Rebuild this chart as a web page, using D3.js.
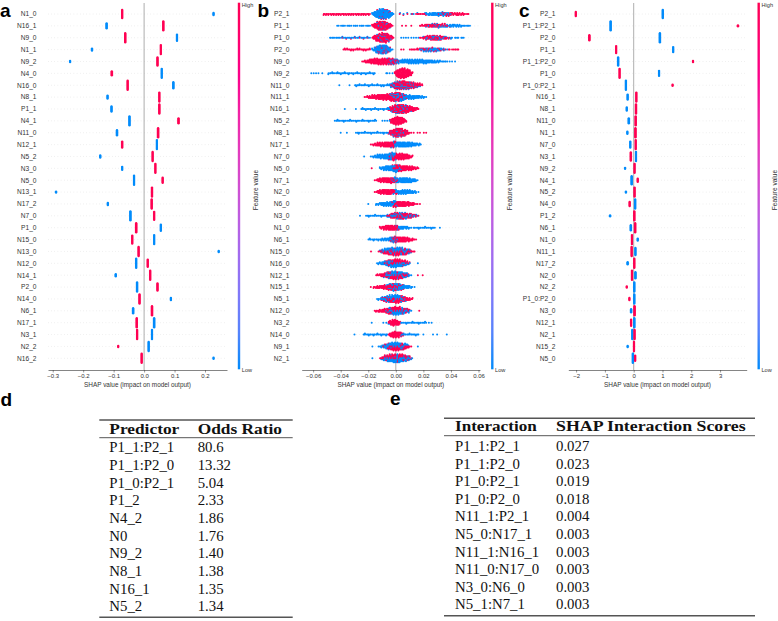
<!DOCTYPE html>
<html><head><meta charset="utf-8">
<script src="https://cdn.jsdelivr.net/npm/d3@7"></script>
<style>body{margin:0;background:#fff}svg{display:block}</style>
</head><body>
<svg id="chart" width="778" height="621"></svg>
<script>
// ---------- Panel a data ----------
const aNames = ["N1_0","N16_1","N9_0","N1_1","N9_2","N4_0","N16_0","N8_1","P1_1","N4_1","N11_0","N12_1","N5_2","N3_0","N5_0","N13_1","N17_2","N7_0","P1_0","N15_0","N13_0","N12_0","N14_1","P2_0","N14_0","N6_1","N17_1","N3_1","N2_2","N16_2"];
const aRed   = [-0.072,0.063,-0.062,0.055,0.044,-0.106,-0.054,0.050,0.050,0.113,0.046,-0.072,0.028,0.037,0.061,0.026,0.025,0.033,-0.026,-0.039,-0.018,0.012,0.020,0.044,-0.015,0.026,-0.024,-0.023,-0.085,-0.008];
const aRedN  = [9,10,10,10,9,5,10,10,10,6,10,7,10,10,6,10,10,9,10,9,10,8,10,8,10,10,10,10,2,10];
const aBlue  = [0.228,-0.123,0.108,-0.171,-0.243,0.058,0.096,-0.120,-0.107,-0.048,-0.089,0.042,-0.144,-0.072,-0.033,-0.289,-0.119,-0.045,0.055,0.033,0.245,-0.026,-0.093,-0.023,0.088,-0.036,0.033,0.026,0.015,0.228];
const aBlueN = [3,6,7,3,2,10,7,4,6,10,6,10,3,4,10,2,3,10,7,10,2,10,3,10,3,6,10,10,10,2];
const aTicks = [-0.3,-0.2,-0.1,0.0,0.1,0.2];
const aTickLabels = ["\u22120.3","\u22120.2","\u22120.1","0.0","0.1","0.2"];

// ---------- Panel b data (beeswarm, read as density profiles) ----------
const bNames = ["P2_1","P1_1","P1_0","P2_0","N9_0","N9_2","N11_0","N11_1","N16_1","N5_2","N8_1","N17_1","N7_0","N5_0","N7_1","N2_0","N6_0","N3_0","N1_0","N6_1","N15_0","N16_0","N12_1","N15_1","N5_1","N12_0","N3_2","N14_0","N9_1","N2_1"];
// blobs: [colour, low, peak, high, dots per column at peak]
const bBlobs = [
 [["b",-0.018,-0.0095,-0.001,9],["r",-0.015,-0.008,-0.002,1.2],["r",0.014,0.018,0.024,1.2],["b",0.019,0.03,0.042,3],["r",0.03,0.045,0.054,2.2]],
 [["r",-0.018,-0.010,-0.002,8],["b",-0.016,-0.009,-0.003,1.2],["r",0.0156,0.027,0.04,2.5],["b",0.02,0.038,0.05,1.5]],
 [["r",-0.018,-0.009,-0.001,8],["b",-0.015,-0.008,-0.002,1.5],["r",0.017,0.027,0.04,3.5],["b",0.018,0.03,0.042,1.2]],
 [["b",-0.018,-0.010,-0.002,7],["r",-0.016,-0.009,-0.003,2],["r",0.007,0.02,0.038,1.5],["b",0.016,0.027,0.038,2.5]],
 [["r",-0.025,-0.010,0.003,6],["b",-0.008,-0.003,0.002,1],["b",-0.005,0.012,0.038,4]],
 [["r",-0.0015,0.0045,0.013,10]],
 [["b",-0.01,0.0,0.02,2.5],["r",-0.004,0.004,0.021,6]],
 [["r",-0.024,-0.002,0.008,6],["b",-0.006,0.006,0.024,4]],
 [["r",-0.006,0.0025,0.018,7],["b",-0.007,0.002,0.012,2]],
 [["r",-0.005,0.0015,0.008,8]],
 [["r",-0.006,0.002,0.011,7],["b",-0.005,0.001,0.008,2]],
 [["r",-0.019,-0.004,0.001,5],["b",-0.004,0.004,0.02,5]],
 [["b",-0.019,-0.004,0.001,5],["r",-0.006,0.004,0.013,6]],
 [["b",-0.013,-0.003,0.004,5],["r",-0.003,0.004,0.018,5]],
 [["r",-0.016,-0.006,0.002,5],["b",-0.004,0.006,0.017,5]],
 [["r",-0.016,-0.006,0.002,5],["b",-0.003,0.006,0.017,4]],
 [["b",-0.016,-0.004,0.002,4],["r",-0.004,0.004,0.016,5]],
 [["b",-0.007,0.002,0.017,2.5],["r",-0.007,0.002,0.017,4]],
 [["r",-0.013,-0.003,0.003,5],["b",-0.001,0.004,0.012,3]],
 [["b",-0.012,-0.004,0.002,3],["r",-0.005,0.003,0.015,5]],
 [["r",-0.014,0.001,0.015,4],["b",-0.013,0.0,0.013,4]],
 [["b",-0.015,-0.003,0.012,4],["r",-0.009,0.001,0.011,4]],
 [["r",-0.016,-0.002,0.011,4],["b",-0.01,0.001,0.012,4]],
 [["r",-0.019,-0.003,0.006,4],["b",-0.008,0.002,0.014,4]],
 [["b",-0.015,-0.001,0.008,4],["r",-0.012,0.002,0.014,4]],
 [["r",-0.017,-0.002,0.012,4],["b",-0.008,0.001,0.012,4]],
 [["r",-0.006,-0.001,0.004,6]],
 [["r",-0.006,0.0,0.006,6]],
 [["b",-0.014,0.0,0.011,4],["r",-0.010,0.001,0.012,4]],
 [["b",-0.012,0.001,0.013,4.5],["r",-0.013,0.0,0.013,4]]
];
// tails: [colour, low, high, dots per column]
const bTails = [
 [["r",-0.053,-0.018,1.5],["r",0.002,0.014,0.3],["b",0.002,0.016,0.35]],
 [["b",-0.043,-0.018,0.8],["r",0.0036,0.012,0.3],["b",0.04,0.054,1.0]],
 [["b",-0.048,-0.018,1.0],["r",-0.04,-0.02,0.3],["b",0.003,0.017,0.5],["b",0.04,0.05,0.8]],
 [["r",-0.038,-0.018,1.4],["r",0.002,0.006,0.4],["r",0.038,0.046,0.9]],
 [["b",0.036,0.041,0.5]],
 [["b",-0.063,-0.052,0.45],["b",-0.049,-0.0145,1.3],["b",-0.0085,-0.0024,0.6]],
 [["b",-0.030,-0.008,1.3]],
 [],
 [["b",-0.026,-0.005,1.3]],
 [["b",-0.045,-0.014,1.2],["b",-0.011,-0.004,0.5]],
 [["b",-0.0295,-0.005,1.2],["r",0.011,0.022,0.4]],
 [],[],[],[],[],[],
 [["b",-0.022,-0.006,1.2]],
 [["b",0.012,0.029,1.2]],
 [["b",-0.020,-0.010,1.3]],
 [],[],[],[],[],[],
 [["b",-0.009,-0.004,0.6],["b",0.003,0.022,1.2]],
 [["b",-0.024,-0.006,1.3],["b",0.003,0.017,1.2]],
 [],[]
];
// isolated points: [colour, value]
const bPoints = [
 [],[],[],[],
 [["b",0.043]],
 [],
 [["b",-0.041],["b",-0.0336]],
 [],
 [["b",-0.037],["b",-0.029]],
 [],
 [["b",-0.040],["b",-0.0355]],
 [],
 [["b",-0.023]],
 [["r",-0.0175]],
 [],[],
 [["b",-0.020],["r",0.0175]],
 [["b",-0.026]],
 [["b",0.032]],
 [],
 [["r",-0.018]],
 [["b",0.016]],
 [["r",0.016],["r",0.0195]],
 [],[],
 [["r",0.017]],
 [["b",-0.0175],["b",0.024],["b",0.026]],
 [["b",-0.030],["b",0.020],["b",0.027],["b",0.030],["b",0.037]],
 [["b",-0.017],["b",0.016]],
 [["b",-0.017]]
];
const bTicks = [-0.06,-0.04,-0.02,0.0,0.02,0.04,0.06];
const bTickLabels = ["\u22120.06","\u22120.04","\u22120.02","0.00","0.02","0.04","0.06"];

// ---------- Panel c data ----------
const cNames = ["P2_1","P1_1:P2_1","P2_0","P1_1","P1_1:P2_0","P1_0","P1_0:P2_1","N16_1","N8_1","N11_0","N1_1","N7_0","N3_1","N9_2","N4_1","N5_2","N4_0","P1_2","N6_1","N1_0","N11_1","N17_2","N2_0","N2_2","P1_0:P2_0","N3_0","N12_1","N2_1","N15_2","N5_0"];
const cRed   = [-2.01,3.62,-1.54,-0.61,2.06,-0.49,1.35,0.09,0.08,0.07,0.06,0.07,-0.10,0.03,0.14,0.03,-0.14,0.02,0.05,-0.06,-0.07,0.02,-0.06,-0.24,-0.15,0.03,-0.09,0.03,0.01,0.05];
const cRedN  = [5,2,6,8,2,10,2,10,10,10,10,10,9,10,4,10,5,10,10,10,10,10,10,2,3,10,7,10,10,6];
const cBlue  = [1.01,-0.80,0.91,1.37,-0.54,0.88,-0.27,-0.21,-0.24,-0.17,-0.22,-0.12,0.08,-0.30,-0.07,-0.27,0.05,-0.82,-0.10,0.14,0.06,-0.21,0.06,0.02,0.02,-0.09,0.02,-0.05,-0.21,-0.03];
const cBlueN = [9,10,10,6,9,6,10,6,4,6,3,7,10,2,9,2,10,2,6,3,8,3,7,10,10,4,10,10,2,10];
const cTicks = [-2,-1,0,1,2,3];
const cTickLabels = ["\u22122","\u22121","0","1","2","3"];

// ---------- Tables ----------
const dHeader = ["Predictor","Odds Ratio"];
const dPredictors = ["P1_1:P2_1","P1_1:P2_0","P1_0:P2_1","P1_2","N4_2","N0","N9_2","N8_1","N16_1","N5_2"];
const dOdds = ["80.6","13.32","5.04","2.33","1.86","1.76","1.40","1.38","1.35","1.34"];
const eHeader = ["Interaction","SHAP Interaction Scores"];
const eInteractions = ["P1_1:P2_1","P1_1:P2_0","P1_0:P2_1","P1_0:P2_0","N11_1:P2_1","N5_0:N17_1","N11_1:N16_1","N11_0:N17_0","N3_0:N6_0","N5_1:N7_1"];
const eScores = ["0.027","0.023","0.019","0.018","0.004","0.003","0.003","0.003","0.003","0.003"];

// ---------- Drawing ----------
const RED = "#ff0052", BLUE = "#008bfb";
const COL = {r: RED, b: BLUE};
const SANS = "'Liberation Sans', Arial, Helvetica, sans-serif";
const SERIF = "'Liberation Serif', 'Times New Roman', serif";
const svg = d3.select("#chart");
const yTop = 14, yBot = 358.3, axisY = 370;

const defs = svg.append("defs");
const grad = defs.append("linearGradient").attr("id","cbar").attr("x1",0).attr("y1",1).attr("x2",0).attr("y2",0);
const interp = d3.interpolateHcl(BLUE, RED);
d3.range(0, 1.0001, 0.1).forEach(t => grad.append("stop").attr("offset", t).attr("stop-color", interp(t)));

function frame(p) {
  const x = d3.scaleLinear().domain(p.domain).range(p.range);
  const y = d3.scalePoint().domain(p.names).range([yTop, yBot]);
  const g = svg.append("g");
  g.selectAll("line.grid").data(p.names).join("line").attr("class","grid")
    .attr("x1", p.range[0]).attr("x2", p.range[1])
    .attr("y1", d => y(d)).attr("y2", d => y(d))
    .attr("stroke", "#cccccc").attr("stroke-width", 0.5).attr("stroke-dasharray", "0.6,2.6");
  g.append("line").attr("x1", x(0)).attr("x2", x(0)).attr("y1", 3).attr("y2", axisY)
    .attr("stroke", "#999").attr("stroke-width", 0.8);
  g.selectAll("text.nm").data(p.names).join("text").attr("class","nm")
    .attr("x", p.labelEnd).attr("y", d => y(d)).attr("dy", "0.35em")
    .attr("text-anchor", "end").attr("font-family", SANS).attr("font-size", 6.6).attr("fill", "#333")
    .text(d => d);
  const ax = d3.axisBottom(x).tickValues(p.ticks).tickFormat((d, i) => p.tickLabels[i])
    .tickSize(2.5).tickPadding(1.5).tickSizeOuter(0);
  const axg = g.append("g").attr("transform", `translate(0,${axisY})`).call(ax);
  axg.select(".domain").attr("stroke", "#333").attr("stroke-width", 0.6);
  axg.selectAll(".tick line").attr("stroke", "#333").attr("stroke-width", 0.5);
  axg.selectAll(".tick text").attr("font-size", 6).attr("fill", "#333").attr("font-family", SANS);
  g.append("text").attr("x", (p.range[0] + p.range[1]) / 2).attr("y", 386.6)
    .attr("text-anchor", "middle").attr("font-family", SANS).attr("font-size", 6.4).attr("fill", "#333")
    .text("SHAP value (impact on model output)");
  g.append("rect").attr("x", p.cbX - 1.2).attr("y", 2.7).attr("width", 2.4).attr("height", 366.6).attr("fill", "url(#cbar)");
  g.append("text").attr("x", p.cbX + 2.8).attr("y", 7).attr("font-family", SANS).attr("font-size", 5.6).attr("fill", "#333").text("High");
  g.append("text").attr("x", p.cbX + 2.8).attr("y", 372).attr("font-family", SANS).attr("font-size", 5.6).attr("fill", "#333").text("Low");
  g.append("text").attr("transform", `translate(${p.fvX},190) rotate(-90)`).attr("text-anchor", "middle")
    .attr("dy", "0.35em").attr("font-family", SANS).attr("font-size", 6.6).attr("fill", "#333").text("Feature value");
  svg.append("text").attr("x", p.letterX).attr("y", 16.7).attr("font-family", SANS).attr("font-weight", "bold")
    .attr("font-size", 19).attr("fill", "#000").text(p.letter);
  return {x, y, g};
}

function stacks(g, x, y, names, vals, counts, color) {
  const vs = 1.0, r = 1.2;
  names.forEach((nm, i) => {
    const n = counts[i];
    for (let k = 0; k < n; k++) {
      g.append("circle").attr("cx", x(vals[i])).attr("cy", y(nm) + (k - (n - 1) / 2) * vs)
        .attr("r", r).attr("fill", color);
    }
  });
}

// Panel a
const A = frame({names: aNames, domain: [-0.3155, 0.2722], range: [48, 227], ticks: aTicks, tickLabels: aTickLabels,
  labelEnd: 36.5, cbX: 239, fvX: 256, letter: "a", letterX: 0});
stacks(A.g, A.x, A.y, aNames, aBlue, aBlueN, BLUE);
stacks(A.g, A.x, A.y, aNames, aRed, aRedN, RED);

// Panel c
const C = frame({names: cNames, domain: [-2.271, 3.924], range: [568.3, 746.7], ticks: cTicks, tickLabels: cTickLabels,
  labelEnd: 555.5, cbX: 758.7, fvX: 775, letter: "c", letterX: 519});
stacks(C.g, C.x, C.y, cNames, cBlue, cBlueN, BLUE);
stacks(C.g, C.x, C.y, cNames, cRed, cRedN, RED);

// Panel b (beeswarm)
const B = frame({names: bNames, domain: [-0.0683, 0.0611], range: [301.7, 480], ticks: bTicks, tickLabels: bTickLabels,
  labelEnd: 289.5, cbX: 492.3, fvX: 510, letter: "b", letterX: 257.5});
(function swarm() {
  const cw = 1.25, vs = 1.0, rad = 1.0;
  const [p0, p1] = B.x.range();
  const lens = (b, v) => {
    const [, lo, pk, hi, n] = b;
    if (v < lo || v > hi) return 0;
    const t = v < pk ? (pk - v) / (pk - lo || 1) : (v - pk) / (hi - pk || 1);
    return n * (1 - t * t);
  };
  const dots = [];
  bNames.forEach((nm, i) => {
    const yc = B.y(nm);
    const acc = {r: 0.5, b: 0.5};
    let col = 0;
    for (let px = p0 + 0.6; px <= p1; px += cw, col++) {
      const v = B.x.invert(px);
      const cnt = {r: 0, b: 0};
      bBlobs[i].forEach(b => { cnt[b[0]] += lens(b, v); });
      bTails[i].forEach(t => { if (v >= t[1] && v <= t[2]) cnt[t[0]] += t[3]; });
      const k = {};
      ["r", "b"].forEach(c => {
        if (cnt[c] <= 0) { k[c] = 0; return; }
        acc[c] += cnt[c];
        k[c] = Math.floor(acc[c]);
        acc[c] -= k[c];
      });
      let seq = [];
      let rr = 0, bb = 0;
      while (rr < k.r || bb < k.b) {
        if (bb >= k.b || (rr < k.r && (rr + 0.5) / k.r <= (bb + 0.5) / k.b)) { seq.push("r"); rr++; }
        else { seq.push("b"); bb++; }
      }
      if (seq.length > 1) {
        const s = (col * 5 + i * 3) % seq.length;
        seq = seq.slice(s).concat(seq.slice(0, s));
      }
      const flip = col % 2 ? 1 : -1;
      seq.forEach((c, j) => {
        const off = ((j + 1) >> 1) * (j % 2 ? flip : -flip) * vs;
        const jit = (((col * 7 + j * 3) % 5) - 2) * 0.12;
        dots.push({x: px + jit, y: yc + off, c, j});
      });
    }
    bPoints[i].forEach(p => dots.push({x: B.x(p[1]), y: yc, c: p[0], j: 0}));
  });
  dots.sort((a, b) => b.j - a.j);
  B.g.append("g").selectAll("circle").data(dots).join("circle")
    .attr("cx", d => d.x).attr("cy", d => d.y).attr("r", rad).attr("fill", d => COL[d.c]);
})();

// Tables
function table(t) {
  const g = svg.append("g");
  g.append("text").attr("x", t.letterX).attr("y", t.letterY).attr("font-family", SANS).attr("font-weight", "bold")
    .attr("font-size", 19).attr("fill", "#000").text(t.letter);
  g.append("line").attr("x1", t.x0).attr("x2", t.x1).attr("y1", t.top).attr("y2", t.top).attr("stroke", "#555").attr("stroke-width", 1.4);
  g.append("line").attr("x1", t.x0).attr("x2", t.x1).attr("y1", t.mid).attr("y2", t.mid).attr("stroke", "#444").attr("stroke-width", 0.9);
  g.append("line").attr("x1", t.x0).attr("x2", t.x1).attr("y1", t.bottom).attr("y2", t.bottom).attr("stroke", "#555").attr("stroke-width", 1.4);
  t.header.forEach((h, i) => {
    g.append("text").attr("x", t.cols[i]).attr("y", t.headY).attr("font-family", SERIF).attr("font-weight", "bold")
      .attr("font-size", 14.8).attr("fill", "#111").attr("textLength", t.headW[i]).attr("lengthAdjust", "spacingAndGlyphs").text(h);
  });
  const ry = d3.scaleLinear().domain([0, 1]).range([t.row0, t.row0 + t.rowStep]);
  [t.c1, t.c2].forEach((arr, ci) => {
    g.selectAll(null).data(arr).join("text").attr("x", t.cols[ci]).attr("y", (d, i) => ry(i))
      .attr("font-family", SERIF).attr("font-size", 14.8).attr("fill", "#111").text(d => d);
  });
}
table({letter: "d", letterX: 0.5, letterY: 406, x0: 99.3, x1: 292.7, top: 420, mid: 437.7, bottom: 617.3,
  cols: [109.3, 197.7], header: dHeader, headW: [70, 84.3], headY: 434.3, row0: 452.3, rowStep: 17.65,
  c1: dPredictors, c2: dOdds});
table({letter: "e", letterX: 390, letterY: 405, x0: 444, x1: 755, top: 418.3, mid: 435.7, bottom: 615.8,
  cols: [455, 556], header: eHeader, headW: [81.7, 189.7], headY: 431, row0: 451, rowStep: 17.6,
  c1: eInteractions, c2: eScores});
</script>
</body></html>
